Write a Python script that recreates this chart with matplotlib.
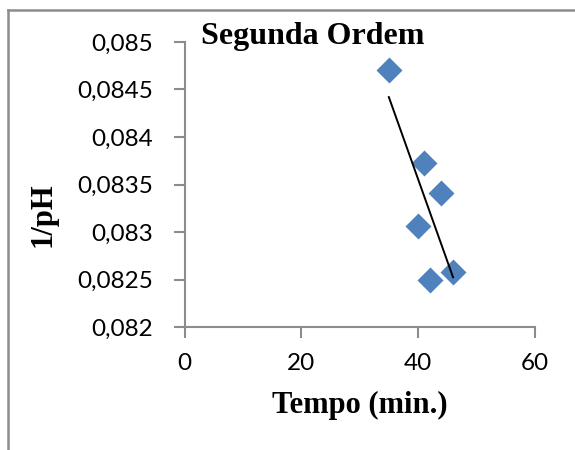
import matplotlib.pyplot as plt
from matplotlib.lines import Line2D
from matplotlib.ticker import FuncFormatter
import numpy as np

# data
tempo = [35, 41, 44, 40, 42, 46]
inv_ph = [0.08470, 0.08373, 0.08341, 0.08306, 0.08249, 0.08258]

x_ticks = [0, 20, 40, 60]
y_ticks = [0.082, 0.0825, 0.083, 0.0835, 0.084, 0.0845, 0.085]

fig = plt.figure(figsize=(5.75, 4.5), dpi=100)
ax = fig.add_axes([0.321, 0.2733, 0.609, 0.6334])

ax.scatter(tempo, inv_ph, marker='D', s=175, color='#4F81BD', zorder=3, linewidths=0)

# linear trend line over the data range
a, b = np.polyfit(tempo, inv_ph, 1)
xs = np.array([min(tempo), max(tempo)])
ax.plot(xs, a * xs + b, color='black', linewidth=1.4, zorder=4)

ax.set_xlim(0, 60)
ax.set_ylim(0.082, 0.085)
ax.set_xticks(x_ticks)
ax.set_yticks(y_ticks)
ax.yaxis.set_major_formatter(FuncFormatter(lambda v, p: f'{v:g}'.replace('.', ',')))

for s in ['top', 'right']:
    ax.spines[s].set_visible(False)
for s in ['left', 'bottom']:
    ax.spines[s].set_color('#8C8C8C')
    ax.spines[s].set_linewidth(1.5)
ax.tick_params(axis='both', colors='#8C8C8C', width=1.5, length=8, direction='out',
               labelcolor='black', labelsize=17.5)
ax.tick_params(axis='x', pad=11)
ax.tick_params(axis='y', pad=15)
for lbl in ax.get_xticklabels() + ax.get_yticklabels():
    lbl.set_family('Lato')

serif = 'Liberation Serif'
fig.text(0.35, 0.918, 'Segunda Ordem', fontsize=23, fontweight='bold', family=serif,
         ha='left', va='center')
fig.text(0.626, 0.098, 'Tempo (min.)', fontsize=22, fontweight='bold', family=serif,
         ha='center', va='center')
fig.text(0.075, 0.522, '1/pH', fontsize=22, fontweight='bold', family=serif,
         ha='center', va='center', rotation=90)

# chart frame (only top and left edges visible in the crop)
fig.add_artist(Line2D([0.0147, 1.0], [0.978, 0.978], color='#8C8C8C', linewidth=1.8,
                      transform=fig.transFigure))
fig.add_artist(Line2D([0.0147, 0.0147], [0.0, 0.978], color='#8C8C8C', linewidth=1.8,
                      transform=fig.transFigure))

fig.savefig('out.png', dpi=100)
